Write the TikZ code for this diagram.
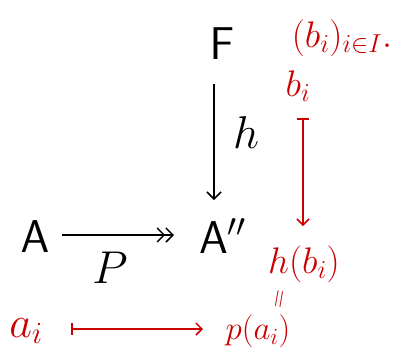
\RequirePackage{fix-cm}
\documentclass[tikz,border=0pt]{standalone}
\usepackage{amssymb}
\usetikzlibrary{arrows.meta}
\definecolor{pen}{RGB}{205,0,0}
\begin{document}
\begin{tikzpicture}[x=1pt,y=-1pt,
  blk/.style={font=\fontsize{46}{50}\selectfont, inner sep=0pt},
  rd/.style={text=pen, font=\fontsize{37}{40}\selectfont, inner sep=0pt},
  arr/.style={line width=1.5pt, -{Straight Barb[length=7pt,width=14pt]}},
  rarr/.style={line width=1.5pt, pen, {Bar[width=12pt]}-{Straight Barb[length=6pt,width=12pt]}}]
\useasboundingbox (0,0) rectangle (413,349);
\node[blk] (F) at (222,44) {$\mathsf{F}$};
\node[blk] (A) at (35,237) {$\mathsf{A}$};
\node[blk, anchor=west] (A2) at (199,236) {$\mathsf{A}''$};
\node[blk] (h) at (246,133) {$h$};
\node[blk] (P) at (110,268) {$P$};
\coordinate (hs) at (214,84);
\coordinate (he) at (214,200);
\draw[arr] (hs) -- (he);
\coordinate (ps) at (62,235);
\coordinate (pe) at (174,235);
\draw[line width=1.5pt, -{Straight Barb[length=7pt,width=14pt]Straight Barb[length=7pt,width=14pt]}] (ps) -- (pe);
\node[rd] (fam) at (342,38) {$(b_i)_{i\in I}.$};
\node[rd] (bi) at (298,86) {$b_i$};
\node[rd] (hb) at (304,264) {$h(b_i)$};
\node[rd, font=\fontsize{26}{28}\selectfont] (eq) at (281,299) {\rotatebox{80}{$=$}};
\node[rd, font=\fontsize{44}{46}\selectfont] (ai) at (26,331) {$a_i$};
\node[rd, font=\fontsize{33}{36}\selectfont] (pa) at (258,331) {$p(a_i)$};
\coordinate (bs) at (303,118);
\coordinate (be) at (303,226);
\draw[rarr] (bs) -- (be);
\coordinate (as) at (71,329);
\coordinate (ae) at (203,329);
\draw[rarr] (as) -- (ae);
\end{tikzpicture}
\end{document}
